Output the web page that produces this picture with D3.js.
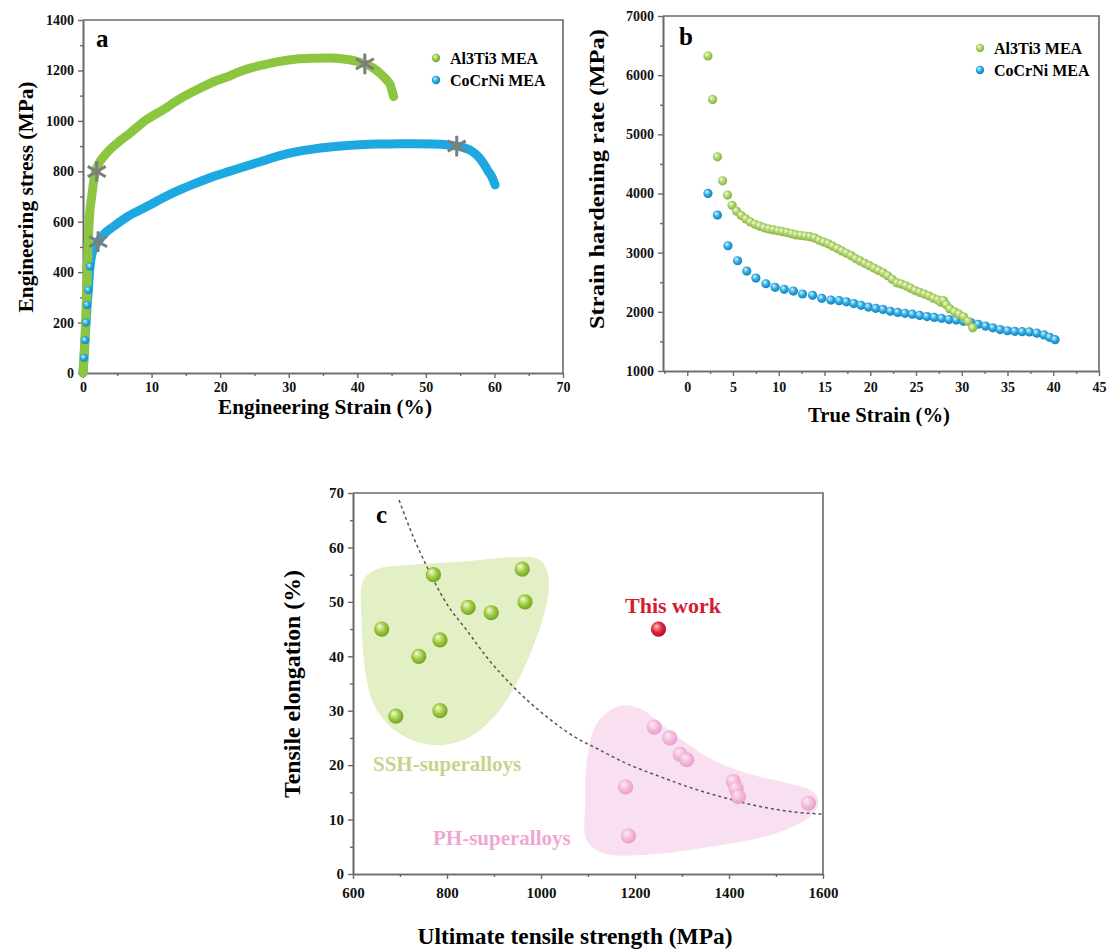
<!DOCTYPE html>
<html>
<head>
<meta charset="utf-8">
<script src="https://cdn.jsdelivr.net/npm/d3@7"></script>
<style>
  body { margin: 0; background: #fff; }
  svg { font-family: "Liberation Serif", "Times New Roman", serif; font-weight: bold; }
</style>
</head>
<body>
<svg id="fig" width="1113" height="952"></svg>
<script>
// ---- panel a : engineering stress-strain curves [strain %, stress MPa]
const tensileAl = [[0,0],[0.3,150],[0.55,330],[0.77,528],[1.0,640],[1.27,700],[1.55,760],[1.8,795],[2.3,830],
  [3.45,872],[5,912],[6.85,951],[9,1000],[11.7,1044],[14,1085],[16.6,1123],[19.5,1160],[21.4,1178],[22.4,1190],
  [24.5,1210],[26.3,1222],[28.7,1236],[31.2,1245],[33.5,1248],[36,1249],[38,1245],[39.9,1236],[41.1,1226],
  [42.3,1210],[43.3,1189],[44.2,1165],[44.8,1143],[45.3,1096]];
const tensileCo = [[0,0],[0.15,60],[0.3,130],[0.45,200],[0.6,270],[0.78,329],[1.02,422],[1.25,465],[1.5,488],
  [2.2,521],[3.2,555],[4.4,580],[6.5,620],[9.3,660],[11.7,695],[14.1,726],[16.5,753],[19,779],[21.4,800],
  [23.5,818],[26.3,842],[28.7,862],[31.2,878],[33.5,888],[36,896],[38.5,902],[40.9,906],[43.5,908],[46,909],
  [48.5,909],[51,908],[53,905],[54.5,900],[55.5,894],[56.4,885],[57.5,862],[58.4,832],[59.1,800],[59.6,779],[60.1,746]];
const elasticCo = [[0.15,60],[0.3,130],[0.45,200],[0.6,270],[0.78,329],[1.02,422]];
const stars = [[2.0,799],[41.1,1226],[2.2,521],[54.5,900]];

// ---- panel b : strain hardening rate [true strain %, MPa]
const hardenAl = [[2.26,6326],[2.77,5590],[3.3,4620],[3.86,4215],[4.4,3973],[4.9,3800],[5.4,3700],[5.9,3630],
  [6.4,3570],[6.9,3520],[7.4,3480],[7.9,3450],[8.4,3420],[8.9,3400],[9.4,3385],[9.9,3370],[10.4,3355],
  [10.9,3340],[11.4,3320],[11.9,3300],[12.4,3290],[12.9,3280],[13.4,3270],[13.9,3250],[14.4,3210],[14.9,3180],
  [15.4,3150],[15.9,3110],[16.4,3070],[16.9,3030],[17.4,2990],[17.9,2950],[18.4,2900],[18.9,2860],[19.4,2820],
  [19.9,2780],[20.4,2740],[20.9,2700],[21.4,2660],[21.9,2610],[22.4,2550],[22.9,2490],[23.4,2470],[23.9,2440],
  [24.4,2400],[24.9,2360],[25.4,2330],[25.9,2300],[26.4,2270],[26.9,2230],[27.4,2200],[27.7,2160],[28.0,2190],
  [28.3,2120],[28.7,2050],[29.2,2000],[29.7,1960],[30.2,1917],[30.7,1840],[31.2,1730]];
const hardenCo = [[2.26,4001],[3.3,3635],[4.45,3117],[5.5,2863],[6.5,2689],[7.5,2571],[8.6,2475],[9.6,2414],
  [10.6,2380],[11.6,2351],[12.6,2301],[13.7,2279],[14.7,2228],[15.7,2199],[16.6,2188],[17.4,2170],[18.2,2140],
  [19.0,2110],[19.8,2080],[20.6,2060],[21.4,2040],[22.2,2010],[23.0,1990],[23.8,1975],[24.6,1960],[25.4,1940],
  [26.2,1920],[27.0,1905],[27.8,1890],[28.6,1870],[29.4,1860],[30.2,1840],[31.0,1820],[31.8,1790],[32.6,1760],
  [33.4,1730],[34.2,1700],[35.0,1680],[35.8,1670],[36.6,1665],[37.4,1660],[38.2,1640],[39.0,1610],[39.6,1570],[40.2,1530]];

// ---- panel c : UTS (MPa) vs elongation (%)
const ssh = [[661,45],[771,55],[740,40],[785,43],[691,29],[785,30],[845,49],[894,48],[960,56],[966,50]];
const ph = [[1241,27],[1274,25],[1296,22],[1310,21],[1180,16],[1186,7],[1409,17],[1415,15.7],[1420,14.2],[1569,13]];
const thisWork = [[1250,45]];
const trend = [[698,68.7],[728,62],[757,56.5],[799,49.7],[842,44.8],[884,39.9],[941,34.4],[1012,28.9],
  [1083,24.6],[1111,23.4],[1182,20.3],[1253,17.9],[1324,15.7],[1395,13.9],[1466,12.4],[1537,11.4],[1600,11.0]];
const sshZone = [[622,54],[650,56],[728,56.8],[835,57.4],[941,58.2],[998,57.7],[1016,54.6],[1012,49.7],[991,43.6],
  [955,36.2],[906,29.5],[849,25.2],[792,23.7],[735,24.3],[679,27.1],[643,31.4],[626,37.5],[618,46.7]];
const phZone = [[1168,30.9],[1211,30.4],[1253,27.7],[1310,24],[1367,20.9],[1438,18.5],[1523,16.7],[1579,15.1],
  [1590,13],[1572,10.5],[1501,7.5],[1360,5],[1218,3.5],[1133,3.8],[1097,6.2],[1094,13],[1097,20.3],[1119,27.7]];

const axisColor = '#6a6a6a';
const svg = d3.select('#fig');
const defs = svg.append('defs');

function sphere(id, light, base, dark) {
  const g = defs.append('radialGradient').attr('id', id)
    .attr('cx', '45%').attr('cy', '45%').attr('r', '60%').attr('fx', '35%').attr('fy', '30%');
  g.append('stop').attr('offset', '0%').attr('stop-color', light);
  g.append('stop').attr('offset', '55%').attr('stop-color', base);
  g.append('stop').attr('offset', '100%').attr('stop-color', dark);
}
sphere('gA', '#e8f6cf', '#93c846', '#6fa02c');
sphere('bA', '#d6f1ff', '#22a9e2', '#0c7fb6');
sphere('gB', '#f2fbe2', '#a9d160', '#80ab3e');
sphere('bB', '#dcf3ff', '#27a7df', '#0d7db5');
sphere('gC', '#f4fcdc', '#9dcb3e', '#6f9a20');
sphere('pC', '#fdeef7', '#f3b6d8', '#e692c4');
sphere('rC', '#ffc0c8', '#e2283e', '#a50d22');

function frame(cfg) {
  const x = d3.scaleLinear().domain(cfg.xdomain).range([cfg.left, cfg.right]);
  const y = d3.scaleLinear().domain(cfg.ydomain).range([cfg.bottom, cfg.top]);
  const g = svg.append('g');
  const fmt = d3.format('d');

  const axes = [
    [d3.axisBottom(x).tickValues(cfg.xticks).tickFormat(fmt).tickSize(5).tickPadding(cfg.pad).tickSizeOuter(0), `translate(0,${cfg.bottom})`],
    [d3.axisBottom(x).tickValues(cfg.xminor).tickSize(3).tickFormat('').tickSizeOuter(0), `translate(0,${cfg.bottom})`],
    [d3.axisLeft(y).tickValues(cfg.yticks).tickFormat(fmt).tickSize(5).tickPadding(4).tickSizeOuter(0), `translate(${cfg.left},0)`],
    [d3.axisLeft(y).tickValues(cfg.yminor).tickSize(3).tickFormat('').tickSizeOuter(0), `translate(${cfg.left},0)`]
  ];
  axes.forEach(([ax, tr]) => {
    const ag = g.append('g').attr('transform', tr).call(ax)
      .attr('font-family', null).attr('font-size', cfg.tickFont);
    ag.selectAll('line').attr('stroke', axisColor).attr('stroke-width', 1.4);
    ag.select('.domain').attr('stroke', axisColor).attr('stroke-width', 1.6);
    ag.selectAll('text').attr('fill', '#111');
  });

  g.append('path')
    .attr('d', `M${cfg.left},${cfg.top}H${cfg.right}V${cfg.bottom}`)
    .attr('fill', 'none').attr('stroke', axisColor).attr('stroke-width', 1.6);

  g.append('text').attr('x', cfg.letter[0]).attr('y', cfg.letter[1])
    .attr('font-size', 25).text(cfg.letterText);

  g.append('text')
    .attr('x', cfg.xtitle[0]).attr('y', cfg.xtitle[1]).attr('text-anchor', 'middle')
    .attr('font-size', cfg.titleFont).attr('textLength', cfg.xtitle[2]).attr('lengthAdjust', 'spacingAndGlyphs')
    .text(cfg.xlabel);
  g.append('text')
    .attr('transform', `translate(${cfg.ytitle[0]},${cfg.ytitle[1]}) rotate(-90)`).attr('text-anchor', 'middle')
    .attr('font-size', cfg.titleFont).attr('textLength', cfg.ytitle[2]).attr('lengthAdjust', 'spacingAndGlyphs')
    .text(cfg.ylabel);
  return { x, y, g };
}

function legend(g, items, x0, y0) {
  items.forEach((it, i) => {
    g.append('circle').attr('cx', x0).attr('cy', y0 + i * 22).attr('r', 4.2).attr('fill', `url(#${it[1]})`);
    g.append('text').attr('x', x0 + 14).attr('y', y0 + i * 22 + 6).attr('font-size', 16).text(it[0]);
  });
}

// ---------- panel a
const pa = frame({
  left: 83, right: 563, top: 20, bottom: 373,
  xdomain: [0, 70], ydomain: [0, 1400],
  xticks: d3.range(0, 71, 10), xminor: d3.range(5, 70, 10),
  yticks: d3.range(0, 1401, 200), yminor: d3.range(100, 1400, 200),
  pad: 4, tickFont: 14, titleFont: 20,
  letter: [96, 47], letterText: 'a',
  xlabel: 'Engineering Strain (%)', xtitle: [325, 414, 214],
  ylabel: 'Engineering stress (MPa)', ytitle: [33, 197, 231]
});
const lineA = d3.line().x(d => pa.x(d[0])).y(d => pa.y(d[1])).curve(d3.curveMonotoneX);
[[tensileCo, '#1ea8e2'], [tensileAl, '#8cc641']].forEach(([data, col]) => {
  pa.g.append('path').datum(data).attr('d', lineA)
    .attr('fill', 'none').attr('stroke', col).attr('stroke-width', 9)
    .attr('stroke-linecap', 'round').attr('stroke-linejoin', 'round');
});
pa.g.selectAll('.el').data(elasticCo).enter().append('circle')
  .attr('cx', d => pa.x(d[0])).attr('cy', d => pa.y(d[1])).attr('r', 4)
  .attr('fill', 'url(#bA)');
pa.g.selectAll('.star').data(stars).enter().append('path')
  .attr('transform', d => `translate(${pa.x(d[0])},${pa.y(d[1])})`)
  .attr('d', d3.symbol(d3.symbolAsterisk, 300))
  .attr('fill', 'none').attr('stroke', '#7d7d7d').attr('stroke-width', 3);
legend(pa.g, [['Al3Ti3 MEA', 'gA'], ['CoCrNi MEA', 'bA']], 436, 58);

// ---------- panel b
const pb = frame({
  left: 663, right: 1099, top: 16, bottom: 371,
  xdomain: [-2.65, 45], ydomain: [1000, 7000],
  xticks: d3.range(0, 46, 5), xminor: d3.range(-2.5, 45, 5),
  yticks: d3.range(1000, 7001, 1000), yminor: d3.range(1500, 7000, 1000),
  pad: 6, tickFont: 14, titleFont: 21,
  letter: [679, 45], letterText: 'b',
  xlabel: 'True Strain (%)', xtitle: [879, 422, 142],
  ylabel: 'Strain hardening rate (MPa)', ytitle: [604, 179, 300]
});
[[hardenCo, 'bB'], [hardenAl, 'gB']].forEach(([data, grad]) => {
  pb.g.selectAll(null).data(data).enter().append('circle')
    .attr('cx', d => pb.x(d[0])).attr('cy', d => pb.y(d[1])).attr('r', 4.6)
    .attr('fill', `url(#${grad})`);
});
legend(pb.g, [['Al3Ti3 MEA', 'gB'], ['CoCrNi MEA', 'bB']], 980, 48);

// ---------- panel c
const pc = frame({
  left: 353, right: 823, top: 493, bottom: 874,
  xdomain: [600, 1600], ydomain: [0, 70],
  xticks: d3.range(600, 1601, 200), xminor: d3.range(700, 1600, 200),
  yticks: d3.range(0, 71, 10), yminor: d3.range(5, 70, 10),
  pad: 8, tickFont: 15, titleFont: 23.5,
  letter: [376, 523], letterText: 'c',
  xlabel: 'Ultimate tensile strength (MPa)', xtitle: [575, 944, 315],
  ylabel: 'Tensile elongation (%)', ytitle: [300, 684, 228]
});
const zone = d3.line().x(d => pc.x(d[0])).y(d => pc.y(d[1])).curve(d3.curveCatmullRomClosed.alpha(0.5));
pc.g.insert('path', ':first-child').datum(sshZone).attr('d', zone).attr('fill', '#e3f0c6');
pc.g.insert('path', ':first-child').datum(phZone).attr('d', zone).attr('fill', '#f9e0f1');

pc.g.append('path').datum(trend)
  .attr('d', d3.line().x(d => pc.x(d[0])).y(d => pc.y(d[1])).curve(d3.curveMonotoneX))
  .attr('fill', 'none').attr('stroke', '#555').attr('stroke-width', 1.5).attr('stroke-dasharray', '3,3');

[[ssh, 'gC', 1], [ph, 'pC', 0.9], [thisWork, 'rC', 1]].forEach(([data, grad, op]) => {
  pc.g.selectAll(null).data(data).enter().append('circle')
    .attr('cx', d => pc.x(d[0])).attr('cy', d => pc.y(d[1])).attr('r', 7.6)
    .attr('fill', `url(#${grad})`).attr('opacity', op);
});
pc.g.append('text').attr('x', 673).attr('y', 613).attr('text-anchor', 'middle')
  .attr('font-size', 22).attr('fill', '#d41c36').text('This work');
pc.g.append('text').attr('x', 373).attr('y', 771)
  .attr('font-size', 21).attr('fill', '#c4d48c').text('SSH-superalloys');
pc.g.append('text').attr('x', 433).attr('y', 845)
  .attr('font-size', 21).attr('fill', '#f0a6d2').text('PH-superalloys');
</script>
</body>
</html>
